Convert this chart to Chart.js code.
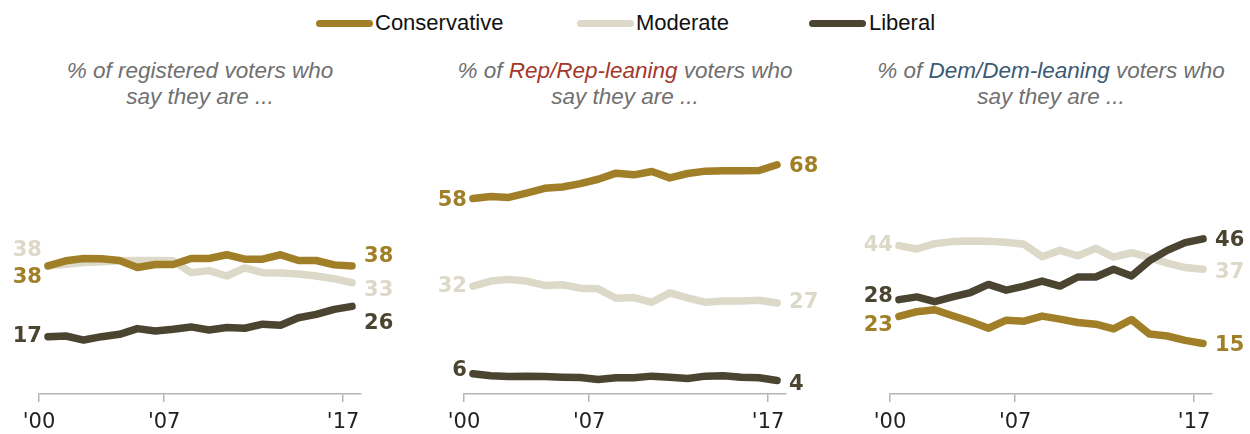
<!DOCTYPE html>
<html>
<head>
<meta charset="utf-8">
<script src="https://cdn.jsdelivr.net/npm/chart.js@4.4.0/dist/chart.umd.min.js"></script>
<style>
  body { margin: 0; background: #fff; width: 1250px; height: 434px; position: relative; overflow: hidden; font-family: "Liberation Sans", Arial, sans-serif; }
  canvas { position: absolute; }
  .swatch { position: absolute; top: 20px; height: 7px; width: 57px; border-radius: 4px; }
  .legend-text { position: absolute; top: 9px; font-size: 22px; color: #111; line-height: 28px; }
  .subtitle { position: absolute; top: 58px; width: 440px; text-align: center; font-style: italic; font-size: 22.5px; line-height: 26px; color: #707070; }
  .rep { color: #a3372a; }
  .dem { color: #3b5a74; }
</style>
</head>
<body>
<div class="swatch" style="left:316px;background:#a07f28"></div>
<div class="legend-text" style="left:375px">Conservative</div>
<div class="swatch" style="left:577px;background:#dcd9c9"></div>
<div class="legend-text" style="left:636px">Moderate</div>
<div class="swatch" style="left:809px;background:#4a4430"></div>
<div class="legend-text" style="left:869px">Liberal</div>

<div class="subtitle" style="left:-20px">% of registered voters who<br>say they are ...</div>
<div class="subtitle" style="left:405px">% of <span class="rep">Rep/Rep-leaning</span> voters who<br>say they are ...</div>
<div class="subtitle" style="left:831px">% of <span class="dem">Dem/Dem-leaning</span> voters who<br>say they are ...</div>

<canvas id="panel-all" width="415" height="304" style="left:0px;top:140px"></canvas>
<canvas id="panel-rep" width="420" height="304" style="left:420px;top:140px"></canvas>
<canvas id="panel-dem" width="405" height="304" style="left:845px;top:140px"></canvas>

<script>
// Годы опроса (точки ставятся в середину года)
const years = [2000, 2001, 2002, 2003, 2004, 2005, 2006, 2007, 2008, 2009, 2010, 2011, 2012, 2013, 2014, 2015, 2016, 2017];
const tickYears = [2000, 2007, 2017];
const midYear = 0.5;

// Все зарегистрированные избиратели
const allConservative = [38, 39.5, 40.2, 40.1, 39.6, 37.5, 38.4, 38.4, 40.2, 40.2, 41.3, 40, 40, 41.3, 39.6, 39.6, 38.3, 38];
const allModerate = [38, 38.5, 39, 39.2, 39.5, 39.6, 39.6, 39.5, 36, 36.6, 35, 37.4, 36, 35.9, 35.6, 35, 34.2, 33];
const allLiberal = [17, 17.2, 16, 17, 17.7, 19.4, 18.7, 19.2, 19.9, 19, 19.7, 19.5, 20.7, 20.4, 22.6, 23.6, 25.1, 26];

// Республиканцы и сочувствующие
const repConservative = [58, 58.6, 58.3, 59.6, 61, 61.4, 62.4, 63.7, 65.5, 65, 66, 64.1, 65.4, 66.1, 66.2, 66.2, 66.3, 68];
const repModerate = [32, 33.5, 34, 33.5, 32.2, 32.4, 31.4, 31.2, 28.4, 28.6, 27.2, 30, 28.5, 27.2, 27.6, 27.6, 27.8, 27];
const repLiberal = [6, 5.4, 5.2, 5.3, 5.2, 5, 4.9, 4.3, 4.8, 4.8, 5.3, 5, 4.6, 5.3, 5.4, 5, 4.8, 4];

// Демократы и сочувствующие
const demConservative = [23, 24.4, 25, 23.2, 21.5, 19.5, 21.9, 21.6, 23.1, 22.2, 21.2, 20.7, 19.3, 22.1, 17.8, 17.2, 15.9, 15];
const demModerate = [44, 43, 44.6, 45.2, 45.4, 45.3, 45, 44.4, 40.7, 42.6, 41, 43.2, 40.6, 41.9, 40.5, 38.8, 37.5, 37];
const demLiberal = [28, 28.8, 27.4, 28.8, 30.1, 32.5, 30.8, 32, 33.5, 32, 34.7, 34.7, 37, 35, 39.5, 42.6, 44.9, 46];

const colors = { conservative: '#a07f28', moderate: '#dcd9c9', liberal: '#4a4430' };

// Подписи первого и последнего значения
const endLabels = {
    id: 'endLabels',
    afterDatasetsDraw(chart) {
        const ctx = chart.ctx;
        ctx.save();
        ctx.font = 'bold 21px "DejaVu Sans", sans-serif';
        ctx.textBaseline = 'middle';
        chart.data.datasets.forEach((ds, i) => {
            const pts = chart.getDatasetMeta(i).data;
            const first = pts[0], last = pts[pts.length - 1];
            ctx.fillStyle = ds.borderColor;
            ctx.textAlign = 'right';
            ctx.fillText(Math.round(ds.data[0].y), first.x - 6, first.y + ds.dyStart);
            ctx.textAlign = 'left';
            ctx.fillText(Math.round(ds.data[ds.data.length - 1].y), last.x + 12, last.y + ds.dyEnd);
        });
        ctx.restore();
    }
};

function series(label, values, color, order, dyStart, dyEnd) {
    return {
        label: label,
        data: years.map((y, i) => ({ x: y + midYear, y: values[i] })),
        borderColor: color,
        order: order,
        clip: false,
        dyStart: dyStart,
        dyEnd: dyEnd
    };
}

function makePanel(id, datasets, padLeft, padRight) {
    const ctx = document.getElementById(id).getContext('2d');
    return new Chart(ctx, {
        type: 'line',
        data: { datasets: datasets },
        options: {
            responsive: false,
            animation: false,
            layout: { padding: { left: padLeft, right: padRight, top: 18, bottom: 0.8 } },
            plugins: { legend: { display: false }, tooltip: { enabled: false } },
            elements: {
                point: { radius: 0 },
                line: { borderWidth: 7.5, borderCapStyle: 'round', borderJoinStyle: 'round', tension: 0 }
            },
            scales: {
                x: {
                    type: 'linear',
                    min: 2000,
                    max: 2018,
                    afterBuildTicks: scale => { scale.ticks = tickYears.map(v => ({ value: v })); },
                    grid: { drawOnChartArea: false, tickLength: 8, color: '#b5b5b5', lineWidth: 1.5 },
                    border: { color: '#b5b5b5', width: 1.5 },
                    ticks: {
                        callback: v => "'" + String(v).slice(2),
                        color: '#222',
                        padding: 8,
                        maxRotation: 0,
                        font: { family: '"DejaVu Sans", sans-serif', size: 21 }
                    }
                },
                y: { display: false, min: 0, max: 70 }
            }
        },
        plugins: [endLabels]
    });
}

makePanel('panel-all', [
    series('Conservative', allConservative, colors.conservative, 1, 12, -9),
    series('Moderate', allModerate, colors.moderate, 3, -15, 8),
    series('Liberal', allLiberal, colors.liberal, 2, 0, 17)
], 39, 54);

makePanel('panel-rep', [
    series('Conservative', repConservative, colors.conservative, 1, 2, 2),
    series('Moderate', repModerate, colors.moderate, 3, 0, 0),
    series('Liberal', repLiberal, colors.liberal, 2, -3, 4)
], 44, 54);

makePanel('panel-dem', [
    series('Conservative', demConservative, colors.conservative, 1, 9, 2),
    series('Moderate', demModerate, colors.moderate, 3, 0, 3),
    series('Liberal', demLiberal, colors.liberal, 2, -3, 2)
], 45, 38);
</script>
</body>
</html>
